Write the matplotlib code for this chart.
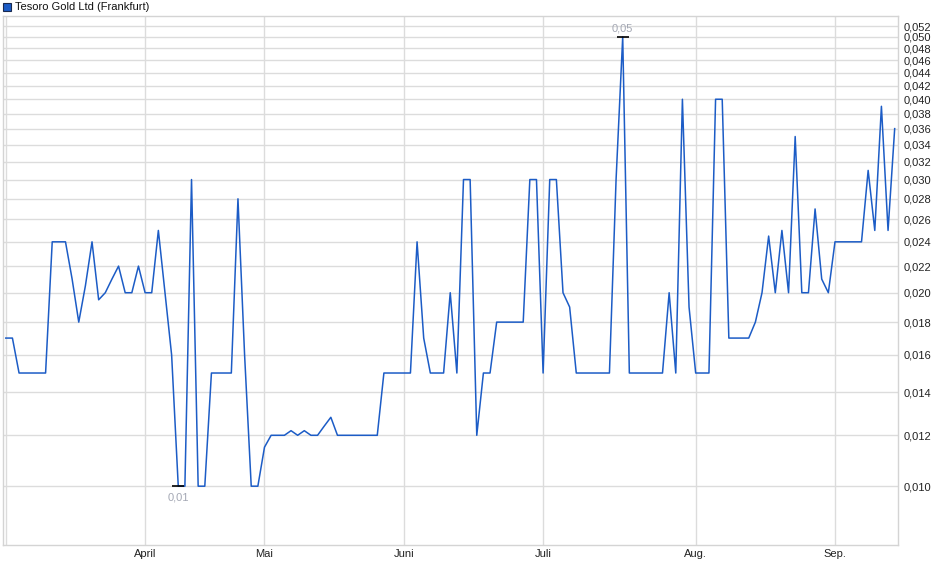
import numpy as np
import matplotlib
matplotlib.use("Agg")
import matplotlib.pyplot as plt
from matplotlib.patches import Rectangle
from matplotlib.ticker import FixedLocator, FuncFormatter, NullLocator

plt.rcParams['font.family'] = ['Liberation Sans', 'DejaVu Sans']

title = "Tesoro Gold Ltd (Frankfurt)"

# closing prices per trading day (Frankfurt)
prices = [
    0.017, 0.017, 0.015, 0.015, 0.015, 0.015, 0.015, 0.024, 0.024, 0.024,
    0.021, 0.018, 0.0205, 0.024, 0.0195, 0.020, 0.021, 0.022, 0.020, 0.020,
    0.022, 0.020, 0.020, 0.025, 0.020, 0.016, 0.010, 0.010, 0.030, 0.010,
    0.010, 0.015, 0.015, 0.015, 0.015, 0.028, 0.016, 0.010, 0.010, 0.0115,
    0.012, 0.012, 0.012, 0.0122, 0.012, 0.0122, 0.012, 0.012, 0.0124, 0.0128,
    0.012, 0.012, 0.012, 0.012, 0.012, 0.012, 0.012, 0.015, 0.015, 0.015,
    0.015, 0.015, 0.024, 0.017, 0.015, 0.015, 0.015, 0.020, 0.015, 0.030,
    0.030, 0.012, 0.015, 0.015, 0.018, 0.018, 0.018, 0.018, 0.018, 0.030,
    0.030, 0.015, 0.030, 0.030, 0.020, 0.019, 0.015, 0.015, 0.015, 0.015,
    0.015, 0.015, 0.030, 0.050, 0.015, 0.015, 0.015, 0.015, 0.015, 0.015,
    0.020, 0.015, 0.040, 0.019, 0.015, 0.015, 0.015, 0.040, 0.040, 0.017,
    0.017, 0.017, 0.017, 0.018, 0.020, 0.0245, 0.020, 0.025, 0.020, 0.035,
    0.020, 0.020, 0.027, 0.021, 0.020, 0.024, 0.024, 0.024, 0.024, 0.024,
    0.031, 0.025, 0.039, 0.025, 0.036,
]

# first trading day of each month (index into prices)
month_labels = ["April", "Mai", "Juni", "Juli", "Aug.", "Sep."]
month_starts = [21, 39, 60, 81, 104, 125]

y_ticks = [round(0.010 + 0.002 * k, 3) for k in range(22)]

line_color = "#1c5cc6"
grid_color = "#dcdcdc"

fig = plt.figure(figsize=(9.4, 5.79), dpi=100)
ax = fig.add_axes([3 / 940, 34 / 579, 895 / 940, 529 / 579])

x = np.arange(len(prices))
y = np.array(prices)
ax.plot(x, y, color=line_color, lw=1.1, zorder=3)

ax.set_yscale('log')
ax.set_ylim(0.0081, 0.0539)
ax.set_xlim(-0.42, len(prices) - 0.5)

ax.yaxis.set_major_locator(FixedLocator(y_ticks))
ax.yaxis.set_minor_locator(NullLocator())
ax.yaxis.set_major_formatter(FuncFormatter(lambda v, p: f"{v:.3f}".replace('.', ',')))
ax.yaxis.tick_right()

ax.xaxis.set_major_locator(FixedLocator(month_starts))
ax.set_xticklabels(month_labels)

ax.tick_params(axis='both', length=0, labelsize=8, colors='#222222')
ax.tick_params(axis='y', pad=4)
ax.tick_params(axis='x', pad=3)

ax.grid(True, color=grid_color, lw=1, zorder=0)
ax.axvline(0, color=grid_color, lw=1, zorder=0)
for s in ax.spines.values():
    s.set_color('#d4d4d4')
    s.set_linewidth(1)

# min / max markers
i_min = int(np.argmin(y))
i_max = int(np.argmax(y))
ax.plot([i_min], [y[i_min]], marker='_', color='black', ms=9, mew=1.2, zorder=4)
ax.plot([i_max], [y[i_max]], marker='_', color='black', ms=9, mew=1.2, zorder=4)
ax.annotate(f"{y[i_min]:.2f}".replace('.', ','), (i_min, y[i_min]),
            xytext=(0, -4.5), textcoords='offset points', ha='center', va='top',
            fontsize=8, color='#a4a8b4')
ax.annotate(f"{y[i_max]:.2f}".replace('.', ','), (i_max, y[i_max]),
            xytext=(0, 2.5), textcoords='offset points', ha='center', va='bottom',
            fontsize=8, color='#a4a8b4')

# legend box
fig.patches.append(Rectangle((3 / 940, 1 - 11 / 579), 8 / 940, 8 / 579,
                             transform=fig.transFigure, facecolor=line_color,
                             edgecolor='#1a2a50', lw=0.8))
fig.text(15 / 940, 1 - 7 / 579, title, fontsize=8, va='center', ha='left',
         color='#111111')

fig.savefig("out.png", dpi=100)
